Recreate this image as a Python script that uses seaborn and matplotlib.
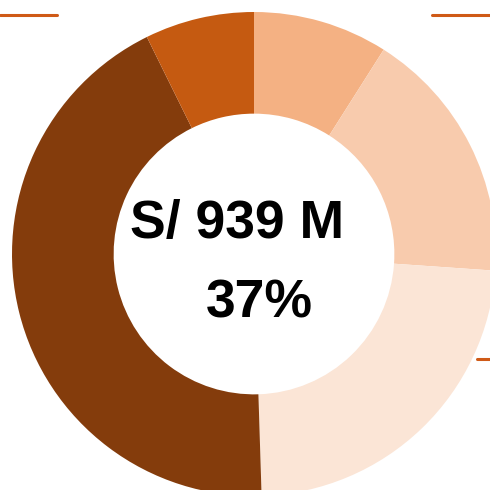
import matplotlib
matplotlib.use("Agg")
import matplotlib.pyplot as plt
import seaborn as sns
from matplotlib.lines import Line2D

# donut slices, clockwise from 12 o'clock
labels = ["A", "B", "C", "D", "E"]
values = [9.0, 17.1, 23.4, 43.2, 7.3]
colors = ["#F4B183", "#F8CBAD", "#FBE5D6", "#843C0C", "#C55A11"]

total_text = "S/ 939 M"
pct_text = "37%"

sns.set_theme(style="white")
plt.rcParams['font.family'] = ['Liberation Sans', 'DejaVu Sans']

fig = plt.figure(figsize=(4.9, 4.9), dpi=100)
ax = fig.add_axes([0, 0, 1, 1])

ax.pie(values, colors=colors, startangle=90, counterclock=False, radius=1,
       wedgeprops=dict(width=0.42, edgecolor="none"))

# centre of donut at (254, 254) px, radius 242 px
ax.set_xlim(-254 / 242, (490 - 254) / 242)
ax.set_ylim(-(490 - 254) / 242, 254 / 242)
ax.set_aspect("equal")
ax.axis("off")

ax.text(-0.070, 0.066, total_text, ha="center", va="baseline",
        fontsize=38.5, fontweight="bold", color="black")
ax.text(0.023, -0.264, pct_text, ha="center", va="baseline",
        fontsize=38.5, fontweight="bold", color="black")

# leader line fragments at the edges
lc = "#CF5A17"
for xs, ys in [((0, 0.116), (0.969, 0.969)),
               ((0.882, 1.0), (0.969, 0.969)),
               ((0.973, 1.0), (0.267, 0.267))]:
    fig.add_artist(Line2D(xs, ys, color=lc, lw=2.2, transform=fig.transFigure))

fig.savefig("out.png", dpi=100)
